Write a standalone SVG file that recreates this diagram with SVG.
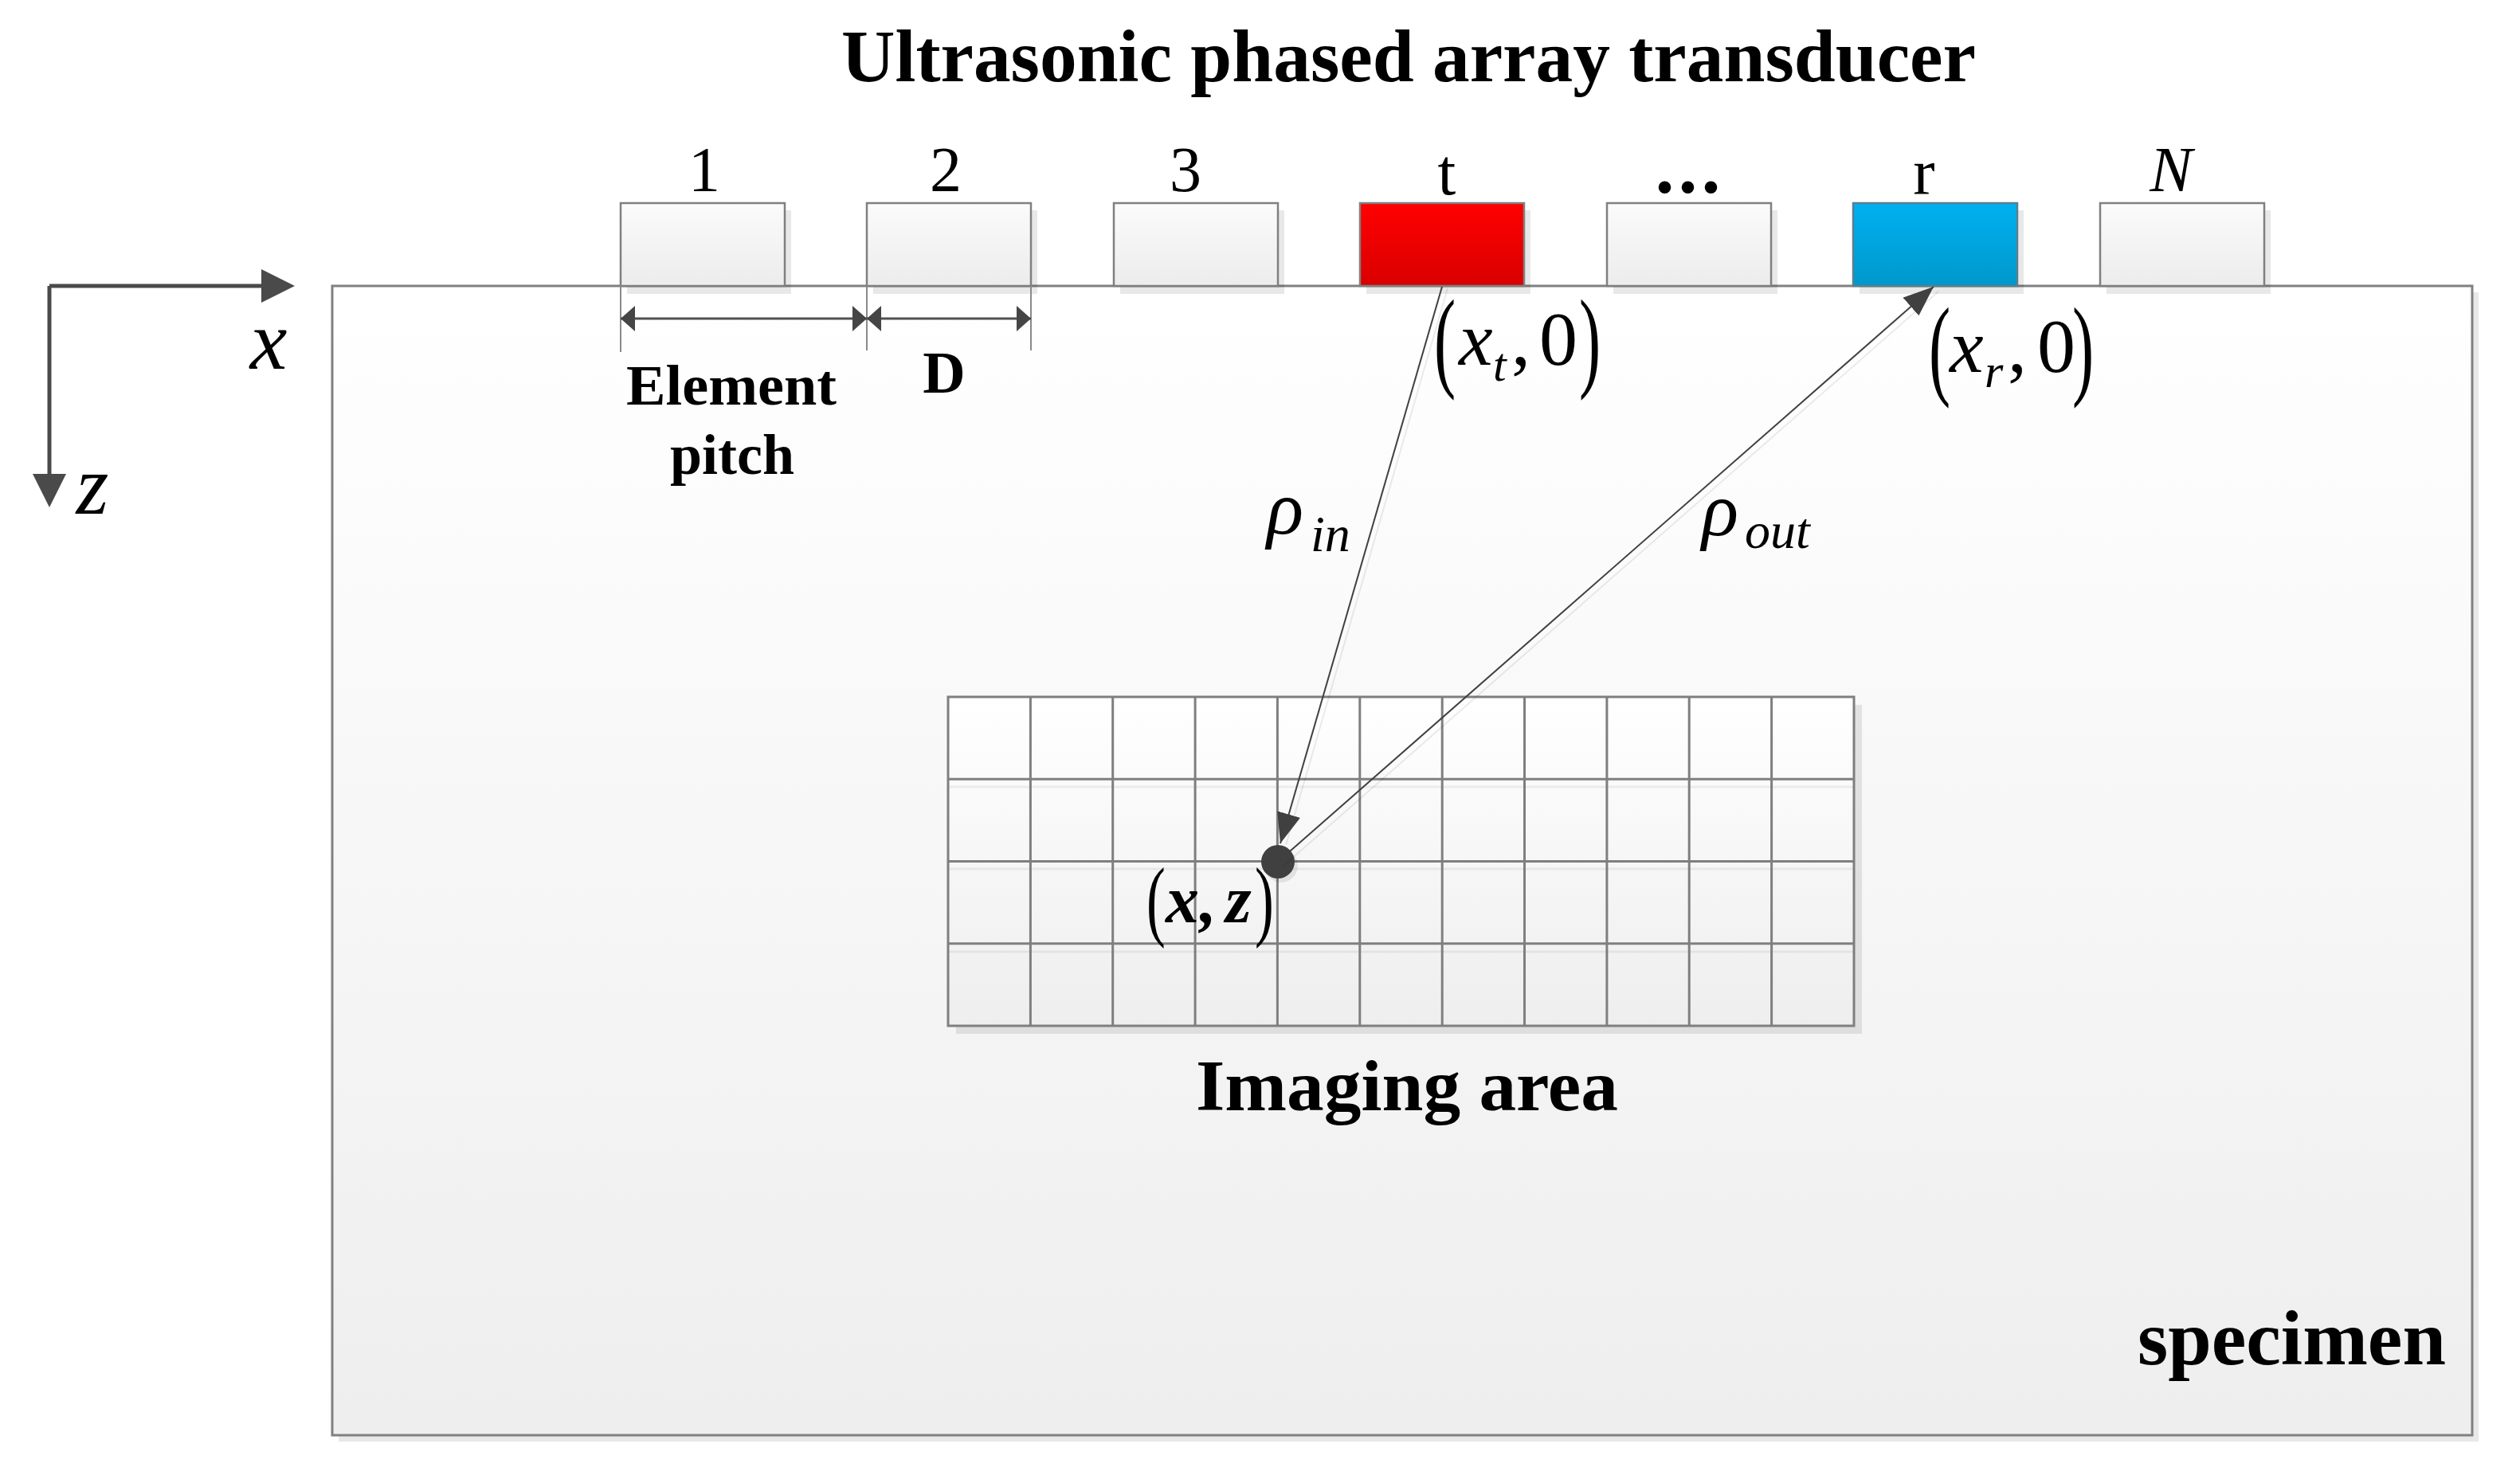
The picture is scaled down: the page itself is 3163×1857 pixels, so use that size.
<svg xmlns="http://www.w3.org/2000/svg" width="3163" height="1857" viewBox="0 0 3163 1857">
<style>
text{font-family:"Liberation Serif","Times New Roman",serif;fill:#000}
.b{font-weight:bold}
.i{font-style:italic}
.box{stroke:#808080;stroke-width:2.5}
.shadow{fill:#000;fill-opacity:0.09}
.grid{stroke:#7f7f7f;stroke-width:3;fill:none}
.gridsh{stroke:#000;stroke-opacity:0.06;stroke-width:3;fill:none}
.dim{stroke:#505050;stroke-width:3;fill:none}
.ext{stroke:#8a8a8a;stroke-width:2;fill:none}
.ray{stroke:#404040;stroke-width:2;fill:none}
.raysh{stroke:#000;stroke-opacity:0.08;stroke-width:2;fill:none}
.axis{stroke:#4a4a4a;stroke-width:5;fill:none}
</style>
<defs>
<linearGradient id="gWhite" x1="0" y1="0" x2="0" y2="1"><stop offset="0" stop-color="#fbfbfb"/><stop offset="1" stop-color="#ececec"/></linearGradient>
<linearGradient id="gSpec" x1="0" y1="0" x2="0" y2="1"><stop offset="0" stop-color="#ffffff"/><stop offset="1" stop-color="#eeeeee"/></linearGradient>
<linearGradient id="gRed" x1="0" y1="0" x2="0" y2="1"><stop offset="0" stop-color="#ff0000"/><stop offset="1" stop-color="#d90000"/></linearGradient>
<linearGradient id="gBlue" x1="0" y1="0" x2="0" y2="1"><stop offset="0" stop-color="#00b0f0"/><stop offset="1" stop-color="#0098cc"/></linearGradient>
<marker id="axArr" viewBox="0 0 42 42" refX="0" refY="21" markerWidth="42" markerHeight="42" markerUnits="userSpaceOnUse" orient="auto"><path d="M0,0 L42,21 L0,42 z" fill="#4a4a4a"/></marker>
<marker id="rayArr" viewBox="0 0 38 30" refX="38" refY="15" markerWidth="38" markerHeight="30" markerUnits="userSpaceOnUse" orient="auto"><path d="M0,0 L38,15 L0,30 z" fill="#404040"/></marker>
<marker id="dimArr" viewBox="0 0 18 32" refX="18" refY="16" markerWidth="18" markerHeight="32" markerUnits="userSpaceOnUse" orient="auto-start-reverse"><path d="M0,0 L18,16 L0,32 z" fill="#454545"/></marker>
</defs>
<rect width="3163" height="1857" fill="#fff"/>

<text class="b" x="1768" y="102" font-size="93" text-anchor="middle" textLength="1424" lengthAdjust="spacingAndGlyphs">Ultrasonic phased array transducer</text>

<g id="axes">
<path class="axis" d="M62,359 H328" marker-end="url(#axArr)"/>
<path class="axis" d="M62,359 V595" marker-end="url(#axArr)"/>
<text class="i" x="337" y="463" font-size="105" text-anchor="middle">x</text>
<text class="i" x="116" y="645" font-size="105" text-anchor="middle">z</text>
</g>

<g id="specimen">
<rect x="425" y="367" width="2686" height="1443" class="shadow"/>
<rect x="417" y="359" width="2686" height="1443" fill="url(#gSpec)" stroke="#808080" stroke-width="3"/>
<text class="b" x="3070" y="1713" font-size="98" text-anchor="end" textLength="387" lengthAdjust="spacingAndGlyphs">specimen</text>
</g>

<g id="imaging-area">
<rect x="1200" y="885" width="1137" height="413" class="shadow"/>
<rect x="1190" y="875" width="1137" height="413" fill="url(#gSpec)"/>
<path class="gridsh" d="M1190,988 H2327 M1190,1091 H2327 M1190,1195 H2327"/>
<path class="grid" d="M1293.4,875 V1288 M1396.7,875 V1288 M1500.1,875 V1288 M1603.4,875 V1288 M1706.8,875 V1288 M1810.2,875 V1288 M1913.5,875 V1288 M2016.9,875 V1288 M2120.2,875 V1288 M2223.6,875 V1288 M1190,978.3 H2327 M1190,1081.5 H2327 M1190,1184.8 H2327"/>
<rect x="1190" y="875" width="1137" height="413" class="grid"/>
<text class="b" x="1766" y="1394" font-size="90" text-anchor="middle" textLength="530" lengthAdjust="spacingAndGlyphs">Imaging area</text>
</g>

<g id="element-1">
<rect x="787" y="264" width="206" height="105" class="shadow"/>
<rect x="779" y="255" width="206" height="104" fill="url(#gWhite)" class="box"/>
<text x="884" y="240" font-size="80" text-anchor="middle">1</text>
</g>
<g id="element-2">
<rect x="1096" y="264" width="206" height="105" class="shadow"/>
<rect x="1088" y="255" width="206" height="104" fill="url(#gWhite)" class="box"/>
<text x="1187" y="240" font-size="80" text-anchor="middle">2</text>
</g>
<g id="element-3">
<rect x="1406" y="264" width="206" height="105" class="shadow"/>
<rect x="1398" y="255" width="206" height="104" fill="url(#gWhite)" class="box"/>
<text x="1488" y="240" font-size="80" text-anchor="middle">3</text>
</g>
<g id="element-t">
<rect x="1715" y="264" width="206" height="105" class="shadow"/>
<rect x="1707" y="255" width="206" height="104" fill="url(#gRed)" class="box"/>
<text x="1816" y="244" font-size="82" text-anchor="middle">t</text>
</g>
<g id="element-dots">
<rect x="2025" y="264" width="206" height="105" class="shadow"/>
<rect x="2017" y="255" width="206" height="104" fill="url(#gWhite)" class="box"/>
<text class="b" x="2121" y="242" font-size="96" text-anchor="middle" letter-spacing="5">...</text>
</g>
<g id="element-r">
<rect x="2334" y="264" width="206" height="105" class="shadow"/>
<rect x="2326" y="255" width="206" height="104" fill="url(#gBlue)" stroke="#5a7f90" stroke-width="2.5"/>
<text x="2415" y="244" font-size="82" text-anchor="middle">r</text>
</g>
<g id="element-N">
<rect x="2644" y="264" width="206" height="105" class="shadow"/>
<rect x="2636" y="255" width="206" height="104" fill="url(#gWhite)" class="box"/>
<text class="i" x="2725" y="240" font-size="80" text-anchor="middle">N</text>
</g>

<g id="pitch-labels">
<text class="b" x="918" y="508" font-size="72" text-anchor="middle" textLength="264" lengthAdjust="spacingAndGlyphs">Element</text>
<text class="b" x="919" y="595" font-size="72" text-anchor="middle">pitch</text>
<text class="b" x="1185" y="493" font-size="74" text-anchor="middle">D</text>
</g>

<g id="point">
<circle cx="1608" cy="1087" r="21" fill="#000" fill-opacity="0.08"/>
<circle cx="1604" cy="1082" r="21" fill="#404040"/>
</g>

<g id="connectors">
<path class="ext" d="M779,359 V442 M1088,359 V440 M1294,359 V440"/>
<path class="dim" d="M779,400 H1088" marker-start="url(#dimArr)" marker-end="url(#dimArr)"/>
<path class="dim" d="M1088,400 H1294" marker-start="url(#dimArr)" marker-end="url(#dimArr)"/>
<path class="raysh" d="M1817,362 L1614,1061"/>
<path class="raysh" d="M1610,1088 L2433,366"/>
<path class="ray" d="M1810,360 L1607,1059" marker-end="url(#rayArr)"/>
<path class="ray" d="M1604,1082 L2427,360" marker-end="url(#rayArr)"/>
</g>

<g id="labels">
<text transform="translate(1800,473) scale(0.85,1.45)" font-size="96">(</text>
<text class="i" x="1831" y="458" font-size="96">x</text>
<text class="i" x="1874" y="478" font-size="60">t</text>
<text x="1897" y="458" font-size="96">,</text>
<text x="1932" y="458" font-size="96">0</text>
<text transform="translate(1982,473) scale(0.85,1.45)" font-size="96">)</text>

<text transform="translate(2421,483) scale(0.85,1.45)" font-size="96">(</text>
<text class="i" x="2447" y="467" font-size="96">x</text>
<text class="i" x="2491" y="486" font-size="60">r</text>
<text x="2520" y="467" font-size="96">,</text>
<text x="2557" y="467" font-size="96">0</text>
<text transform="translate(2601,483) scale(0.85,1.45)" font-size="96">)</text>

<text class="i" x="1590" y="670" font-size="96">ρ</text>
<text class="i" x="1645" y="692" font-size="64">in</text>
<text class="i" x="2136" y="672" font-size="96">ρ</text>
<text class="i" x="2190" y="688" font-size="64">out</text>

<text transform="translate(1439,1167) scale(0.85,1.33)" font-size="84">(</text>
<text class="b i" x="1463" y="1158" font-size="84">x</text>
<text class="b i" x="1506" y="1158" font-size="84">,</text>
<text class="b i" x="1538" y="1158" font-size="84">z</text>
<text transform="translate(1575,1167) scale(0.85,1.33)" font-size="84">)</text>
</g>
</svg>
